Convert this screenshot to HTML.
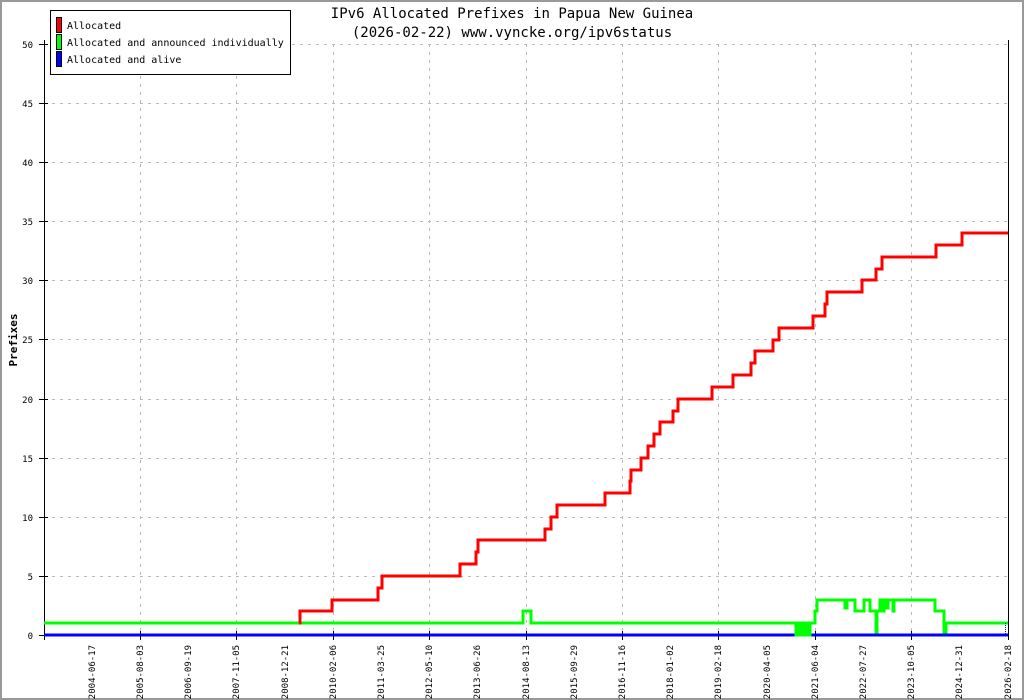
<!DOCTYPE html>
<html><head><meta charset="utf-8"><style>
html,body{margin:0;padding:0;background:#fff}
svg{display:block}
text{font-family:"DejaVu Sans Mono","Liberation Mono",monospace;font-size:10px;fill:#000}
</style></head><body>
<svg width="1024" height="700" xmlns="http://www.w3.org/2000/svg">
<rect x="1" y="1" width="1022" height="698" fill="#fff" stroke="#999" stroke-width="2"/>
<g stroke="#bbb" stroke-dasharray="3,5" stroke-width="1">
<line x1="44" y1="44.5" x2="1008" y2="44.5"/><line x1="44" y1="103.5" x2="1008" y2="103.5"/>
<line x1="44" y1="162.5" x2="1008" y2="162.5"/><line x1="44" y1="221.5" x2="1008" y2="221.5"/>
<line x1="44" y1="280.5" x2="1008" y2="280.5"/><line x1="44" y1="339.5" x2="1008" y2="339.5"/>
<line x1="44" y1="399.5" x2="1008" y2="399.5"/><line x1="44" y1="458.5" x2="1008" y2="458.5"/>
<line x1="44" y1="517.5" x2="1008" y2="517.5"/><line x1="44" y1="576.5" x2="1008" y2="576.5"/>
<line x1="140.5" y1="44" x2="140.5" y2="635"/><line x1="236.5" y1="44" x2="236.5" y2="635"/>
<line x1="333.5" y1="44" x2="333.5" y2="635"/><line x1="429.5" y1="44" x2="429.5" y2="635"/>
<line x1="526.5" y1="44" x2="526.5" y2="635"/><line x1="622.5" y1="44" x2="622.5" y2="635"/>
<line x1="718.5" y1="44" x2="718.5" y2="635"/><line x1="815.5" y1="44" x2="815.5" y2="635"/>
<line x1="911.5" y1="44" x2="911.5" y2="635"/>
</g>
<g stroke="#000" stroke-width="1">
<line x1="44.5" y1="40" x2="44.5" y2="640"/><line x1="1008.5" y1="40" x2="1008.5" y2="640"/>
<line x1="39" y1="44.5" x2="48" y2="44.5"/><line x1="39" y1="103.5" x2="48" y2="103.5"/><line x1="39" y1="162.5" x2="48" y2="162.5"/><line x1="39" y1="221.5" x2="48" y2="221.5"/><line x1="39" y1="280.5" x2="48" y2="280.5"/><line x1="39" y1="339.5" x2="48" y2="339.5"/><line x1="39" y1="399.5" x2="48" y2="399.5"/><line x1="39" y1="458.5" x2="48" y2="458.5"/><line x1="39" y1="517.5" x2="48" y2="517.5"/><line x1="39" y1="576.5" x2="48" y2="576.5"/><line x1="39" y1="635.5" x2="48" y2="635.5"/>
<line x1="140.5" y1="631" x2="140.5" y2="640"/><line x1="236.5" y1="631" x2="236.5" y2="640"/><line x1="333.5" y1="631" x2="333.5" y2="640"/><line x1="429.5" y1="631" x2="429.5" y2="640"/><line x1="526.5" y1="631" x2="526.5" y2="640"/><line x1="622.5" y1="631" x2="622.5" y2="640"/><line x1="718.5" y1="631" x2="718.5" y2="640"/><line x1="815.5" y1="631" x2="815.5" y2="640"/><line x1="911.5" y1="631" x2="911.5" y2="640"/>
</g>
<g text-anchor="end" font-size="9">
<text x="33" y="48" style="font-size:9px">50</text><text x="33" y="107" style="font-size:9px">45</text><text x="33" y="166" style="font-size:9px">40</text><text x="33" y="225" style="font-size:9px">35</text><text x="33" y="284" style="font-size:9px">30</text><text x="33" y="343" style="font-size:9px">25</text><text x="33" y="403" style="font-size:9px">20</text><text x="33" y="462" style="font-size:9px">15</text><text x="33" y="521" style="font-size:9px">10</text><text x="33" y="580" style="font-size:9px">5</text><text x="33" y="639" style="font-size:9px">0</text>
</g>
<g text-anchor="end" style="font-size:9px">
<text transform="translate(95,645) rotate(-90)" style="font-size:9px">2004-06-17</text>
<text transform="translate(143,645) rotate(-90)" style="font-size:9px">2005-08-03</text>
<text transform="translate(191,645) rotate(-90)" style="font-size:9px">2006-09-19</text>
<text transform="translate(239,645) rotate(-90)" style="font-size:9px">2007-11-05</text>
<text transform="translate(288,645) rotate(-90)" style="font-size:9px">2008-12-21</text>
<text transform="translate(336,645) rotate(-90)" style="font-size:9px">2010-02-06</text>
<text transform="translate(384,645) rotate(-90)" style="font-size:9px">2011-03-25</text>
<text transform="translate(432,645) rotate(-90)" style="font-size:9px">2012-05-10</text>
<text transform="translate(480,645) rotate(-90)" style="font-size:9px">2013-06-26</text>
<text transform="translate(529,645) rotate(-90)" style="font-size:9px">2014-08-13</text>
<text transform="translate(577,645) rotate(-90)" style="font-size:9px">2015-09-29</text>
<text transform="translate(625,645) rotate(-90)" style="font-size:9px">2016-11-16</text>
<text transform="translate(673,645) rotate(-90)" style="font-size:9px">2018-01-02</text>
<text transform="translate(721,645) rotate(-90)" style="font-size:9px">2019-02-18</text>
<text transform="translate(770,645) rotate(-90)" style="font-size:9px">2020-04-05</text>
<text transform="translate(818,645) rotate(-90)" style="font-size:9px">2021-06-04</text>
<text transform="translate(866,645) rotate(-90)" style="font-size:9px">2022-07-27</text>
<text transform="translate(914,645) rotate(-90)" style="font-size:9px">2023-10-05</text>
<text transform="translate(962,645) rotate(-90)" style="font-size:9px">2024-12-31</text>
<text transform="translate(1011,645) rotate(-90)" style="font-size:9px">2026-02-18</text>
</g>
<text transform="translate(17,340) rotate(-90)" text-anchor="middle" style="font-size:11px;font-weight:bold">Prefixes</text>
<text x="512" y="18" text-anchor="middle" style="font-size:14px">IPv6 Allocated Prefixes in Papua New Guinea</text>
<text x="512" y="37" text-anchor="middle" style="font-size:14px">(2026-02-22) www.vyncke.org/ipv6status</text>
<polyline fill="none" stroke="#0000ff" stroke-width="3" points="44,635 1008,635"/>
<polyline fill="none" stroke="#00ff00" stroke-width="3" points="44,623 523,623 523,611 531,611 531,623 796,623 796,635 798,635 798,623 800,623 800,635 802,635 802,623 804,623 804,635 806,635 806,623 808,623 808,635 810,635 810,623 815,623 815,611 817,611 817,600 845,600 845,608 847,608 847,600 855,600 855,611 864,611 864,600 870,600 870,611 876,611 876,632 877,632 877,611 880,611 880,600 882,600 882,611 884,611 884,600 886,600 886,608 888,608 888,600 893,600 893,611 894,611 894,600 935,600 935,611 944,611 944,632 946,632 946,623 1008,623"/>
<polyline fill="none" stroke="#ff0000" stroke-width="3" points="299,623 300,623 300,611 332,611 332,600 378,600 378,588 382,588 382,576 460,576 460,564 476,564 476,552 478,552 478,540 545,540 545,529 551,529 551,517 557,517 557,505 605,505 605,493 630,493 630,481 631,481 631,470 641,470 641,458 648,458 648,446 654,446 654,434 660,434 660,422 673,422 673,411 678,411 678,399 712,399 712,387 733,387 733,375 751,375 751,363 755,363 755,351 773,351 773,340 779,340 779,328 813,328 813,316 825,316 825,304 827,304 827,292 862,292 862,280 876,280 876,269 882,269 882,257 936,257 936,245 962,245 962,233 1008,233"/>
<line x1="1005.5" y1="623" x2="1005.5" y2="635" stroke="#0000ff" stroke-dasharray="1,1"/>
<rect x="50.5" y="10.5" width="240" height="64" fill="#fff" stroke="#000"/>
<rect x="56.5" y="17.5" width="5" height="15" fill="#ff0000" stroke="#000"/>
<rect x="56.5" y="34.5" width="5" height="15" fill="#00ff00" stroke="#000"/>
<rect x="56.5" y="51.5" width="5" height="15" fill="#0000ff" stroke="#000"/>
<text x="67" y="29">Allocated</text>
<text x="67" y="46">Allocated and announced individually</text>
<text x="67" y="63">Allocated and alive</text>
</svg>
</body></html>
